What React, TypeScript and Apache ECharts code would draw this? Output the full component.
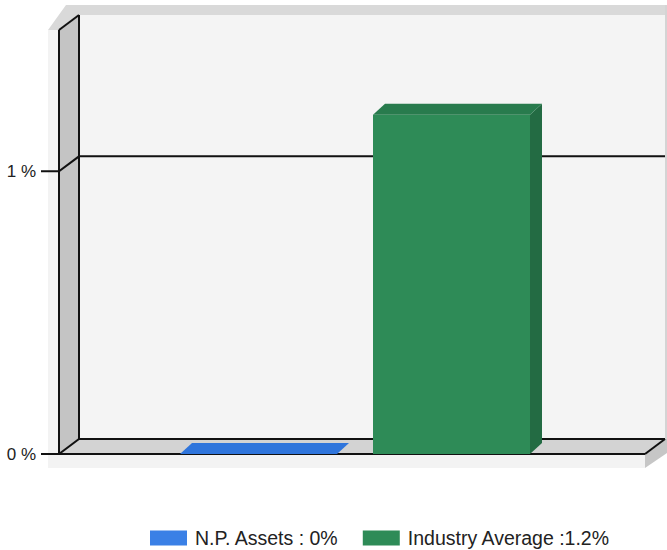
import React, { useEffect, useRef } from 'react';
import * as echarts from 'echarts';

// ---- data ----
const categories = ['Return on Assets'];
const seriesNames = ['N.P. Assets', 'Industry Average'];
const seriesValues = [0, 1.2];
const legendLabels = ['N.P. Assets : 0%', 'Industry Average :1.2%'];
const gridValues = [0, 1];
const yTickLabels = ['0 %', '1 %'];

// ---- styles ----
const frontColors = ['#3a80e6', '#2e8b57'];
const topColors = ['#2f75dc', '#287b4d'];
const sideColors = ['#2a66c0', '#236b43'];
const DX = 20; // wall depth offset
const DY = 15;
const BDX = 12; // bar depth offset
const BDY = 11;
const BAR_FRAC = 157 / 586;
const GAP_FRAC = 36 / 586;
const GROUP_SHIFT = 3;
const FONT = "'Liberation Sans', Arial, sans-serif";

function renderFrame(params: any, api: any) {
  const cs = params.coordSys;
  const x0 = cs.x;
  const yT = cs.y;
  const xR = cs.x + cs.width;
  const yB = cs.y + cs.height;
  const edge = { stroke: '#111', lineWidth: 2, fill: null };
  const children: any[] = [
    // slab front faces
    { type: 'rect', shape: { x: x0 - 11, y: yT, width: 11, height: yB + 14 - yT }, style: { fill: '#f3f3f3' } },
    { type: 'rect', shape: { x: x0 - 11, y: yB, width: xR - x0 + 11, height: 14 }, style: { fill: '#f3f3f3' } },
    // top band
    {
      type: 'polygon',
      shape: {
        points: [
          [x0 - 11, yT], [x0, yT], [x0 + DX, yT - DY], [xR + DX + 4, yT - DY],
          [xR + DX + 4, yT - DY - 10], [x0 + 7, yT - DY - 10],
        ],
      },
      style: { fill: '#d9d9d9' },
    },
    // right band
    { type: 'rect', shape: { x: xR + DX, y: yT - DY - 10, width: 4, height: yB - yT + 10 }, style: { fill: '#d4d4d4' } },
    // back wall
    { type: 'rect', shape: { x: x0 + DX, y: yT - DY, width: xR - x0, height: yB - yT }, style: { fill: '#f4f4f4' } },
    // left wall inner face
    {
      type: 'polygon',
      shape: { points: [[x0, yT], [x0 + DX, yT - DY], [x0 + DX, yB - DY], [x0, yB]] },
      style: { fill: '#c4c4c4' },
    },
    // floor top
    {
      type: 'polygon',
      shape: { points: [[x0, yB], [x0 + DX, yB - DY], [xR + DX, yB - DY], [xR, yB]] },
      style: { fill: '#d3d3d3' },
    },
    // floor right side
    {
      type: 'polygon',
      shape: { points: [[xR, yB], [xR + DX, yB - DY], [xR + DX + 2, yB - DY], [xR + DX + 2, yB - 1], [xR, yB + 14]] },
      style: { fill: '#c6c6c6' },
    },
    // edges
    { type: 'line', shape: { x1: x0, y1: yT, x2: x0, y2: yB }, style: edge },
    { type: 'line', shape: { x1: x0 + DX, y1: yT - DY, x2: x0 + DX, y2: yB - DY }, style: edge },
    { type: 'line', shape: { x1: x0, y1: yT, x2: x0 + DX, y2: yT - DY }, style: edge },
    { type: 'line', shape: { x1: xR, y1: yB, x2: xR + DX, y2: yB - DY }, style: edge },
    { type: 'line', shape: { x1: x0, y1: yB, x2: xR, y2: yB }, style: edge },
  ];
  gridValues.forEach((v) => {
    const yF = api.coord([0, v])[1];
    children.push({
      type: 'polyline',
      shape: { points: [[x0 - 18, yF], [x0, yF], [x0 + DX, yF - DY], [xR + DX, yF - DY]] },
      style: edge,
    });
  });
  return { type: 'group', children };
}

function makeBar(i: number) {
  return (params: any, api: any) => {
    const base = api.coord([api.value(0), 0]);
    const top = api.coord([api.value(0), api.value(1)]);
    const band = api.size([1, 0])[0];
    const bw = band * BAR_FRAC;
    const gap = band * GAP_FRAC;
    const xa = base[0] - (2 * bw + gap) / 2 + GROUP_SHIFT + i * (bw + gap);
    const xb = xa + bw;
    const yb = base[1];
    const yt = top[1];
    const children: any[] = [];
    if (yb - yt > 0.5) {
      children.push({ type: 'rect', shape: { x: xa, y: yt, width: bw, height: yb - yt }, style: { fill: frontColors[i] } });
      children.push({
        type: 'polygon',
        shape: { points: [[xb, yt], [xb + BDX, yt - BDY], [xb + BDX, yb - BDY], [xb, yb]] },
        style: { fill: sideColors[i] },
      });
    }
    children.push({
      type: 'polygon',
      shape: { points: [[xa, yt], [xb, yt], [xb + BDX, yt - BDY], [xa + BDX, yt - BDY]] },
      style: { fill: topColors[i] },
    });
    return { type: 'group', children };
  };
}

export default function App() {
  const ref = useRef<HTMLDivElement>(null);
  useEffect(() => {
    if (!ref.current) return;
    const chart = echarts.init(ref.current, null, { renderer: 'svg' });
    chart.setOption({
      animation: false,
      backgroundColor: '#ffffff',
      grid: { left: 59, top: 30, right: 22, bottom: 96 },
      xAxis: { type: 'category', data: categories, show: false },
      yAxis: {
        type: 'value',
        min: 0,
        max: 1.5,
        interval: 1,
        axisLine: { show: false },
        axisTick: { show: false },
        splitLine: { show: false },
        axisLabel: {
          margin: 23,
          fontSize: 17,
          color: '#222',
          fontFamily: FONT,
          formatter: (v: number) => {
            const k = gridValues.indexOf(v);
            return k >= 0 ? yTickLabels[k] : '';
          },
        },
      },
      legend: {
        data: seriesNames,
        left: 150,
        top: 527,
        padding: 0,
        itemWidth: 37,
        itemHeight: 15,
        itemGap: 24,
        icon: 'rect',
        formatter: (name: string) => legendLabels[seriesNames.indexOf(name)],
        textStyle: { fontSize: 19.5, lineHeight: 22, color: '#222', fontFamily: FONT, padding: [0, 0, 0, 3] },
      },
      series: [
        {
          type: 'custom',
          name: 'frame',
          silent: true,
          z: 1,
          data: [[0, 0]],
          encode: { x: 0, y: 1 },
          renderItem: renderFrame,
        },
        ...seriesNames.map((name, i) => ({
          type: 'custom',
          name,
          z: 2,
          itemStyle: { color: frontColors[i] },
          data: [[0, seriesValues[i]]],
          encode: { x: 0, y: 1 },
          renderItem: makeBar(i),
        })),
      ],
    });
    return () => chart.dispose();
  }, []);
  return (
    <div
      ref={ref}
      style={{ position: 'absolute', left: 0, top: 0, width: 667, height: 550 }}
    />
  );
}
